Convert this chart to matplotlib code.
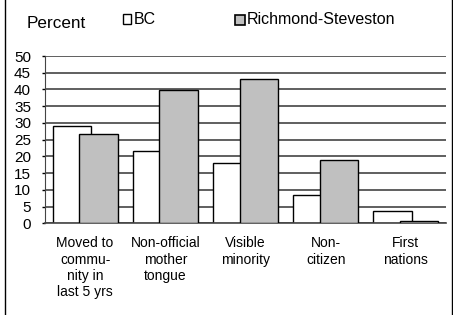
import matplotlib
matplotlib.use("Agg")
import matplotlib.pyplot as plt
from matplotlib.lines import Line2D
import matplotlib.patches as mpatches
import numpy as np

categories = ["Moved to\ncommu-\nnity in\nlast 5 yrs", "Non-official\nmother\ntongue",
              "Visible\nminority", "Non-\ncitizen", "First\nnations"]
bc = [29.2, 21.7, 18.0, 8.5, 3.7]
richmond = [26.8, 39.9, 43.1, 18.9, 0.8]
yticks = list(range(0, 55, 5))

plt.rcParams['font.family'] = ['Liberation Sans', 'DejaVu Sans']
W, H = 453, 315
fig = plt.figure(figsize=(W / 100, H / 100), dpi=100)
ax = fig.add_axes([45 / W, 1 - 223.3 / H, 401 / W, (223.3 - 56) / H])

x = np.arange(len(categories))
w = 0.479
off = 0.166
ax.set_axisbelow(True)
ax.bar(x - off, bc, w, color='white', edgecolor='black', linewidth=1.0, zorder=2)
ax.bar(x + off, richmond, w, color='#c0c0c0', edgecolor='black', linewidth=1.0, zorder=3)

ax.set_xlim(-0.5, len(categories) - 0.5)
ax.set_ylim(0, 50)
ax.set_yticks(yticks)
ax.set_yticklabels([str(v) for v in yticks], fontsize=11)
ax.yaxis.grid(True, color='#444444', linewidth=1.2)
ax.tick_params(axis='y', length=2, width=1, pad=8)
ax.set_xticks(x)
ax.set_xticklabels(categories, fontsize=10, linespacing=1.2, va='top')
ax.tick_params(axis='x', length=0, pad=9.5)
for s in ['top', 'right']:
    ax.spines[s].set_visible(False)
ax.spines['left'].set_color('#444444')
ax.spines['bottom'].set_color('#444444')
ax.spines['bottom'].set_linewidth(1.2)

fig.text(27 / W, 1 - 23 / H, "Percent", fontsize=12.3, va='center', ha='left')
# legend
fig.patches.append(mpatches.Rectangle((122.5 / W, 1 - 23.5 / H), 8.5 / W, 9 / H, transform=fig.transFigure,
                                      facecolor='white', edgecolor='black', linewidth=1))
fig.text(134 / W, 1 - 19.5 / H, "BC", fontsize=11.5, va='center', ha='left')
fig.patches.append(mpatches.Rectangle((235 / W, 1 - 24.5 / H), 9.5 / W, 10 / H, transform=fig.transFigure,
                                      facecolor='#c0c0c0', edgecolor='black', linewidth=1.2))
fig.text(247 / W, 1 - 19.5 / H, "Richmond-Steveston", fontsize=11.5, va='center', ha='left')

fig.lines.append(Line2D([4.5 / W, 4.5 / W], [0, 1], transform=fig.transFigure, color='black', linewidth=1))
fig.lines.append(Line2D([451.5 / W, 451.5 / W], [0, 1], transform=fig.transFigure, color='black', linewidth=1))

fig.savefig("out.png", dpi=100)
